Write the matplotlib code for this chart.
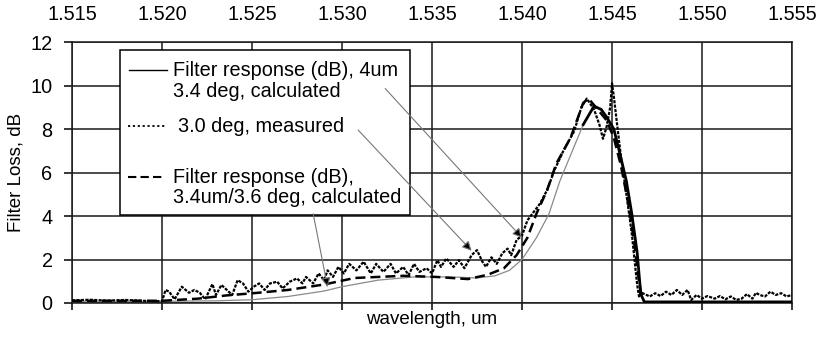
import matplotlib
matplotlib.use("Agg")
import matplotlib.pyplot as plt
import numpy as np

plt.rcParams["font.family"] = ["Liberation Sans", "DejaVu Sans"]
plt.rcParams["font.size"] = 14.3

# calculated response, 4um / 3.4 deg
calc_wl = [1.5150, 1.5200, 1.5230, 1.5250, 1.5270, 1.5290, 1.5300, 1.5320, 1.5340,
           1.5360, 1.5375, 1.5385, 1.5393, 1.5400, 1.5408, 1.5415, 1.5421, 1.5429,
           1.5434, 1.5440, 1.5444, 1.5447, 1.5451, 1.5454, 1.5458, 1.5461, 1.5464,
           1.5466, 1.5468, 1.5550]
calc_loss = [0.08, 0.08, 0.10, 0.15, 0.30, 0.55, 0.75, 1.05, 1.20,
             1.20, 1.15, 1.25, 1.50, 2.00, 3.00, 4.10, 5.60, 7.20,
             8.20, 9.05, 8.90, 8.55, 8.00, 7.00, 5.60, 4.10, 2.30,
             0.40, 0.05, 0.05]

# calculated response, 3.4um / 3.6 deg
calc2_wl = [1.5150, 1.5200, 1.5220, 1.5236, 1.5252, 1.5270, 1.5290, 1.5307, 1.5334,
            1.5352, 1.5370, 1.5381, 1.5390, 1.5397, 1.5403, 1.5408, 1.5414, 1.5419,
            1.5427, 1.5434, 1.5437, 1.5441, 1.5447, 1.5451, 1.5455, 1.5459, 1.5462,
            1.5465, 1.5467]
calc2_loss = [0.10, 0.10, 0.20, 0.35, 0.46, 0.60, 0.85, 1.15, 1.25,
              1.20, 1.10, 1.30, 1.60, 2.20, 3.00, 4.10, 5.20, 6.40,
              7.60, 9.20, 9.40, 9.00, 8.40, 7.60, 6.30, 4.60, 3.00,
              1.00, 0.10]

# measured, 3.0 deg
meas_wl = [1.5150, 1.5160, 1.5170, 1.5180, 1.5190, 1.5200, 1.5202, 1.5204, 1.5207,
           1.5211, 1.5215, 1.5218, 1.5221, 1.5224, 1.5228, 1.5230, 1.5233, 1.5236,
           1.5239, 1.5242, 1.5245, 1.5248, 1.5251, 1.5254, 1.5257, 1.5260, 1.5264,
           1.5267, 1.5271, 1.5275, 1.5278, 1.5280, 1.5284, 1.5287, 1.5290, 1.5292,
           1.5295, 1.5298, 1.5301, 1.5304, 1.5308, 1.5312, 1.5316, 1.5319, 1.5323,
           1.5327, 1.5330, 1.5334, 1.5337, 1.5340, 1.5343, 1.5347, 1.5350, 1.5353,
           1.5355, 1.5358, 1.5362, 1.5365, 1.5368, 1.5372, 1.5375, 1.5378, 1.5380,
           1.5383, 1.5386, 1.5389, 1.5392, 1.5394, 1.5397, 1.5400, 1.5403, 1.5410,
           1.5414, 1.5418, 1.5423, 1.5429, 1.5433, 1.5436, 1.5440, 1.5443, 1.5445,
           1.5447, 1.5449, 1.5450, 1.5451, 1.5453, 1.5455, 1.5458, 1.5461, 1.5463,
           1.5464, 1.5465, 1.5466, 1.5467, 1.5471, 1.5474, 1.5477, 1.5480, 1.5483,
           1.5486, 1.5489, 1.5492, 1.5494, 1.5497, 1.5500, 1.5503, 1.5507, 1.5510,
           1.5513, 1.5516, 1.5519, 1.5522, 1.5525, 1.5528, 1.5530, 1.5532, 1.5535,
           1.5538, 1.5541, 1.5544, 1.5547, 1.5550]
meas_loss = [0.12, 0.15, 0.11, 0.14, 0.10, 0.08, 0.60, 0.52, 0.17,
             0.75, 0.47, 0.60, 0.47, 0.17, 0.87, 0.37, 0.83, 0.60,
             0.37, 1.05, 0.90, 0.52, 0.75, 0.90, 0.60, 0.90, 0.98,
             0.67, 0.98, 1.13, 0.90, 1.20, 0.90, 1.36, 1.05, 1.50,
             1.20, 1.66, 1.36, 1.80, 1.50, 1.90, 1.36, 1.80, 1.43,
             1.80, 1.36, 1.66, 1.28, 1.80, 1.43, 1.60, 1.36, 1.97,
             1.66, 2.05, 1.66, 1.97, 1.60, 2.20, 2.43, 1.90, 1.66,
             2.10, 1.80, 2.28, 2.50, 2.20, 2.90, 3.10, 3.80, 4.57,
             5.20, 6.10, 7.00, 7.90, 9.00, 9.40, 8.90, 8.20, 7.55,
             8.10, 9.00, 10.10, 9.50, 8.10, 6.70, 5.00, 3.20, 1.60,
             0.83, 0.30, 0.52, 0.45, 0.30, 0.45, 0.32, 0.52, 0.37,
             0.60, 0.37, 0.60, 0.14, 0.37, 0.20, 0.32, 0.20, 0.32,
             0.17, 0.30, 0.14, 0.20, 0.41, 0.20, 0.47, 0.37, 0.30,
             0.52, 0.37, 0.45, 0.30, 0.37]

x_ticks = [1.515, 1.520, 1.525, 1.530, 1.535, 1.540, 1.545, 1.550, 1.555]
y_ticks = [0, 2, 4, 6, 8, 10, 12]

fig = plt.figure(figsize=(8.22, 3.4), dpi=100)
ax = fig.add_axes([72 / 822, 1 - 303 / 340, 720 / 822, 261 / 340])

calc_wl = np.array(calc_wl)
calc_loss = np.array(calc_loss)
rise = calc_wl <= 1.5440
fall = calc_wl >= 1.5434

ax.plot(calc_wl[rise], calc_loss[rise], color="#8a8a8a", lw=0.9, zorder=3)
ax.plot(calc_wl[fall], calc_loss[fall], color="black", lw=2.0, zorder=3)
ax.plot(calc2_wl, calc2_loss, color="black", lw=1.8, ls=(0, (4, 2)), zorder=3)
ax.plot(meas_wl, meas_loss, color="black", lw=1.6, ls=(0, (1.4, 0.6)), zorder=3)

ax.set_xlim(1.515, 1.555)
ax.set_ylim(0, 12)
ax.set_xticks(x_ticks)
ax.set_xticklabels([f"{v:.3f}" for v in x_ticks])
ax.set_yticks(y_ticks)
ax.grid(True, color="#1a1a1a", lw=1.1)
ax.set_axisbelow(True)
for sp in ax.spines.values():
    sp.set_color("#1a1a1a")
    sp.set_linewidth(1.1)
ax.tick_params(axis="x", top=False, bottom=True, labeltop=True, labelbottom=False,
               direction="out", length=5, width=1.1, pad=8)
ax.tick_params(axis="y", direction="out", length=6, width=1.1, pad=8)
ax.set_xlabel("wavelength, um", labelpad=1, fontsize=13.5)
ax.xaxis.set_label_position("bottom")
ax.set_ylabel("Filter Loss, dB", labelpad=4, fontsize=13.5)


def fx(px):
    return (px - 72) / 720


def fy(py):
    return (303 - py) / 261


# legend box
box = plt.Rectangle((fx(120), fy(215)), fx(410) - fx(120), fy(50) - fy(215),
                    transform=ax.transAxes, facecolor="white", edgecolor="black",
                    lw=1.1, zorder=5)
ax.add_patch(box)
tr = ax.transAxes
ax.plot([fx(129), fx(167)], [fy(70), fy(70)], color="black", lw=1.0, transform=tr, zorder=6)
ax.plot([fx(128), fx(167)], [fy(126), fy(126)], color="black", lw=1.3,
        ls=(0, (1.2, 1.5)), transform=tr, zorder=6)
ax.plot([fx(128), fx(162)], [fy(177), fy(177)], color="black", lw=1.5,
        ls=(0, (4, 2)), transform=tr, zorder=6)
leg_lines = [
    (173, 70, "Filter response (dB), 4um"),
    (173, 91, "3.4 deg, calculated"),
    (178, 126, "3.0 deg, measured"),
    (173, 177, "Filter response (dB),"),
    (173, 197, "3.4um/3.6 deg, calculated"),
]
for px, py, txt in leg_lines:
    ax.text(fx(px), fy(py), txt, transform=tr, ha="left", va="center", zorder=6)

# pointer arrows from the legend to the curves
arrows = [
    ((1.5324, 9.86), (1.5400, 3.0)),
    ((1.5309, 7.95), (1.5372, 2.4)),
    ((1.5284, 4.10), (1.5292, 0.73)),
]
for start, end in arrows:
    ax.annotate("", xy=end, xytext=start,
                arrowprops=dict(arrowstyle="-|>", ec="#777777", fc="black", lw=0.8,
                                mutation_scale=14, shrinkA=0, shrinkB=0),
                zorder=7)

fig.savefig("out.png", dpi=100)
